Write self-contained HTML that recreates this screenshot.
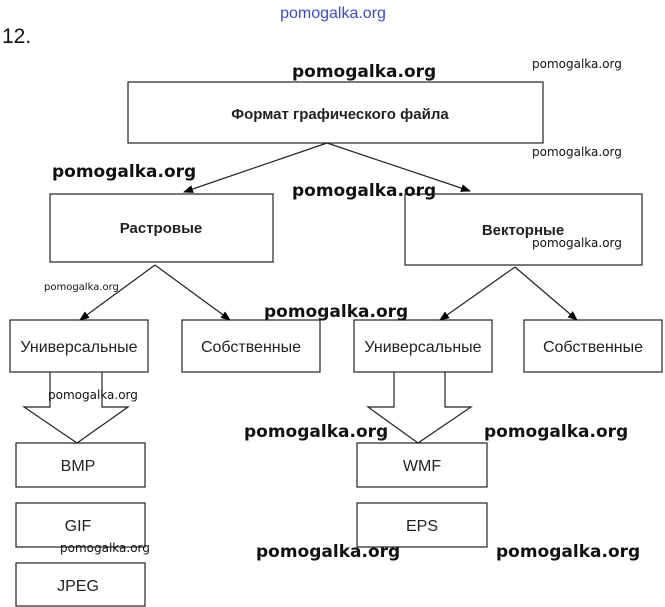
<!DOCTYPE html>
<html><head><meta charset="utf-8"><style>html,body{margin:0;padding:0;background:#fff}svg{display:block}</style></head>
<body>
<svg width="665" height="607" viewBox="0 0 665 607" xmlns="http://www.w3.org/2000/svg">
<defs><marker id="a" markerWidth="10" markerHeight="8" refX="9" refY="4" orient="auto" markerUnits="userSpaceOnUse"><path d="M0,0 L10,4 L0,8 Z" fill="#000"/></marker></defs>
<g fill="none" stroke="#222" stroke-width="1.2">
<rect x="128" y="82" width="415" height="61"/>
<rect x="50" y="194" width="223" height="68"/>
<rect x="405" y="194" width="237" height="71"/>
<rect x="10" y="320" width="138" height="52"/>
<rect x="182" y="320" width="138" height="52"/>
<rect x="354" y="320" width="138" height="52"/>
<rect x="524" y="320" width="138" height="52"/>
<rect x="16" y="443" width="129" height="44"/>
<rect x="16" y="503" width="129" height="44"/>
<rect x="16" y="563" width="129" height="43"/>
<rect x="357" y="443" width="130" height="44"/>
<rect x="357" y="503" width="130" height="44"/>
<path d="M50,372 V407 H24 L77,443 L128,407 H102 V372"/>
<path d="M394,372 V407 H368 L418,443 L471,407 H445 V372"/>
<g marker-end="url(#a)">
<line x1="327" y1="143" x2="184" y2="192"/>
<line x1="327" y1="143" x2="470" y2="191"/>
<line x1="155" y1="265" x2="80" y2="320"/>
<line x1="155" y1="265" x2="230" y2="320"/>
<line x1="515" y1="267" x2="440" y2="320"/>
<line x1="515" y1="267" x2="577" y2="320"/>
</g>
</g>
<g font-family="Liberation Sans, sans-serif" fill="#222" text-anchor="middle">
<text x="340" y="119" font-size="15" font-weight="bold">Формат графического файла</text>
<text x="161" y="233" font-size="15" font-weight="bold">Растровые</text>
<text x="523" y="235" font-size="15" font-weight="bold">Векторные</text>
<text x="79" y="352" font-size="16">Универсальные</text>
<text x="251" y="352" font-size="16">Собственные</text>
<text x="423" y="352" font-size="16">Универсальные</text>
<text x="593" y="352" font-size="16">Собственные</text>
<text x="78" y="471" font-size="16">BMP</text>
<text x="78" y="531" font-size="16">GIF</text>
<text x="78" y="591" font-size="16">JPEG</text>
<text x="422" y="471" font-size="16">WMF</text>
<text x="422" y="531" font-size="16">EPS</text>
</g>
<text x="2" y="43" font-family="Liberation Sans, sans-serif" font-size="21" fill="#111">12.</text>
<text x="333" y="18" font-family="Liberation Sans, sans-serif" font-size="16" fill="#3a4bd0" text-anchor="middle">pomogalka.org</text>
<g font-family="DejaVu Sans, sans-serif" font-weight="bold" fill="#111" font-size="17">
<text x="292" y="77">pomogalka.org</text>
<text x="52" y="177">pomogalka.org</text>
<text x="292" y="196">pomogalka.org</text>
<text x="264" y="317">pomogalka.org</text>
<text x="244" y="437">pomogalka.org</text>
<text x="484" y="437">pomogalka.org</text>
<text x="256" y="557">pomogalka.org</text>
<text x="496" y="557">pomogalka.org</text>
</g>
<g font-family="DejaVu Sans, sans-serif" fill="#111" font-size="12">
<text x="532" y="68">pomogalka.org</text>
<text x="532" y="156">pomogalka.org</text>
<text x="532" y="247">pomogalka.org</text>
<text x="44" y="290" font-size="10">pomogalka.org</text>
<text x="48" y="399">pomogalka.org</text>
<text x="60" y="552">pomogalka.org</text>
</g>
</svg>
</body></html>
